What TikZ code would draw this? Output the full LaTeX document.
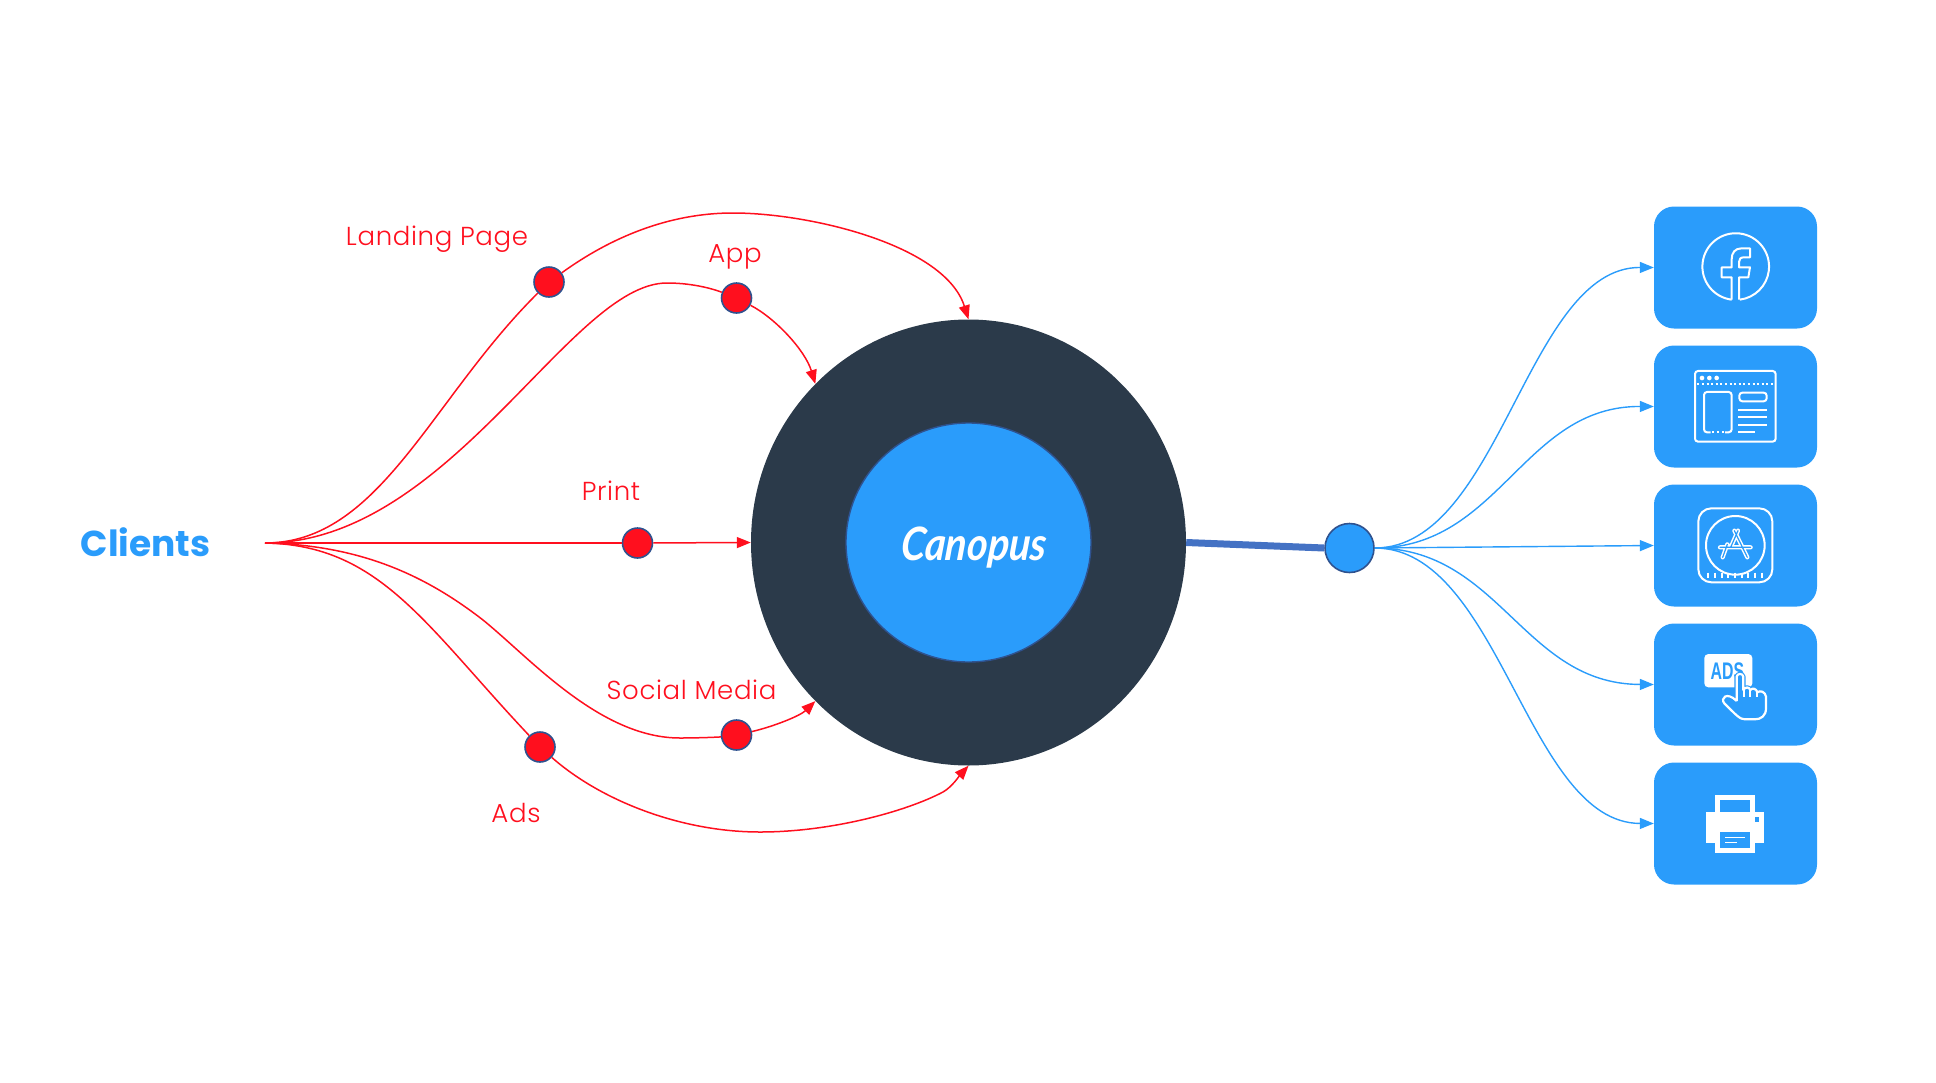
\documentclass[tikz,border=0pt]{standalone}
\usepackage{fontspec}
\setmainfont{Poppins}
\newfontfamily\labelfam[LetterSpace=2.5]{Poppins Light}
\newfontfamily\scriptfam{Lato}
\newfontfamily\iconfam{Liberation Sans}
\usepackage{tikz}
\usetikzlibrary{arrows.meta,shapes.geometric}
\definecolor{cyanblue}{HTML}{2A9CFB}
\definecolor{flowred}{HTML}{FF0F1E}
\definecolor{darkdisc}{HTML}{2B3A4A}
\definecolor{rimblue}{HTML}{2F528F}
\definecolor{barblue}{HTML}{4472C4}
\tikzstyle{rf} = [draw=flowred,line width=1.5pt]
\tikzstyle{rfa} = [rf,-{Triangle[length=14pt,width=11pt]}]
\tikzstyle{bfa} = [draw=cyanblue,line width=1.4pt,-{Triangle[length=14pt,width=11pt]}]
\tikzstyle{reddot} = [circle,fill=flowred,draw=rimblue,line width=1.6pt,minimum size=30pt,inner sep=0pt]
\tikzstyle{redlabel} = [anchor=base,text=flowred,font=\labelfam\fontsize{26}{30}\selectfont]
\tikzstyle{appbox} = [rectangle,rounded corners=20pt,fill=cyanblue,minimum width=163pt,minimum height=122pt,inner sep=0pt]
\tikzstyle{ic} = [draw=white,line width=2pt]

\begin{document}
\begin{tikzpicture}[yscale=-1]
	\useasboundingbox (0pt,0pt) rectangle (1936pt,1082pt);
	% discs
	\node[ellipse,fill=darkdisc,minimum width=435pt,minimum height=446pt,inner sep=0pt] (outerdisc) at (968.5pt,542.5pt) {};
	\node[ellipse,fill=cyanblue,draw=rimblue,line width=1.4pt,minimum width=245pt,minimum height=239pt,inner sep=0pt] (innerdisc) at (968.5pt,542.5pt) {};
	\node[anchor=base,text=white,xscale=0.86,xslant=0.1,font=\scriptfam\itshape\bfseries\fontsize{46}{50}\selectfont] (canopus) at (973pt,560pt) {Canopus};
	% left side
	\node[anchor=base,text=cyanblue,font=\bfseries\fontsize{36}{40}\selectfont] (clients) at (145.5pt,556pt) {Clients};
	\coordinate (fan) at (265pt,543pt);
	\node[reddot] (landingdot) at (549pt,282pt) {};
	\node[reddot] (appdot) at (736.5pt,298pt) {};
	\node[reddot] (printdot) at (637.5pt,543pt) {};
	\node[reddot] (socialdot) at (736.5pt,735pt) {};
	\node[reddot] (adsdot) at (540pt,747pt) {};
	\node[redlabel] (landinglabel) at (437pt,245pt) {Landing Page};
	\node[redlabel] (applabel) at (735pt,262pt) {App};
	\node[redlabel] (printlabel) at (611pt,500pt) {Print};
	\node[redlabel] (sociallabel) at (691.5pt,699pt) {Social Media};
	\node[redlabel] (adslabel) at (516pt,822pt) {Ads};
	\draw[rf] (fan) .. controls (380pt,543pt) and (430pt,400pt) .. (landingdot);
	\draw[rfa] (landingdot) .. controls (610pt,238pt) and (668pt,213pt) .. (733pt,213pt) .. controls (810pt,213pt) and (945pt,245pt) .. (outerdisc.north);
	\draw[rf] (fan) .. controls (450pt,543pt) and (570pt,283pt) .. (667pt,283pt) .. controls (695pt,283pt) and (716pt,290pt) .. (appdot);
	\draw[rfa] (appdot) .. controls (775pt,318pt) and (805pt,350pt) .. (outerdisc.134);
	\draw[rf] (fan) -- (printdot);
	\draw[rfa] (printdot) -- (outerdisc.west);
	\draw[rf] (fan) .. controls (360pt,545pt) and (425pt,575pt) .. (483pt,620pt) .. controls (530pt,658pt) and (600pt,738pt) .. (680pt,738pt) .. controls (700pt,738pt) and (720pt,737pt) .. (socialdot);
	\draw[rfa] (socialdot) .. controls (772pt,727pt) and (800pt,716pt) .. (outerdisc.226);
	\draw[rf] (fan) .. controls (380pt,545pt) and (425pt,625pt) .. (adsdot);
	\draw[rfa] (adsdot) .. controls (600pt,800pt) and (680pt,832pt) .. (760pt,832pt) .. controls (830pt,832pt) and (905pt,812pt) .. (943pt,792pt) .. controls (952pt,787pt) and (960pt,775pt) .. (outerdisc.south);
	% right side
	\node[circle,fill=cyanblue,draw=rimblue,line width=1.6pt,minimum size=49pt,inner sep=0pt] (splitdot) at (1349.5pt,548pt) {};
	\draw[draw=barblue,line width=7pt] (outerdisc.east) -- (splitdot.west);
	\node[appbox] (fbbox) at (1735.5pt,267.5pt) {};
	\node[appbox] (webbox) at (1735.5pt,406.5pt) {};
	\node[appbox] (storebox) at (1735.5pt,545.5pt) {};
	\node[appbox] (adbox) at (1735.5pt,684.5pt) {};
	\node[appbox] (printbox) at (1735.5pt,823.5pt) {};
	\draw[bfa] (splitdot.east) .. controls (1500pt,548pt) and (1527pt,267pt) .. (fbbox.west);
	\draw[bfa] (splitdot.east) .. controls (1500pt,548pt) and (1523pt,406pt) .. (webbox.west);
	\draw[bfa] (splitdot.east) -- (storebox.west);
	\draw[bfa] (splitdot.east) .. controls (1500pt,548pt) and (1523pt,684pt) .. (adbox.west);
	\draw[bfa] (splitdot.east) .. controls (1500pt,548pt) and (1527pt,823pt) .. (printbox.west);
	% facebook icon
	\begin{scope}[shift={(1640pt,190pt)},scale=0.3333]
		\draw[ic] (275pt,329pt) arc[start angle=97,end angle=443,radius=100pt];
		\draw[ic,line join=round] (275pt,329pt) -- (275pt,262pt) -- (245pt,262pt) -- (245pt,232pt) -- (275pt,232pt) -- (275pt,208pt) .. controls (275pt,188pt) and (285pt,175pt) .. (305pt,175pt) -- (330pt,175pt) -- (330pt,202pt) -- (312pt,202pt) .. controls (302pt,202pt) and (297pt,207pt) .. (297pt,216pt) -- (297pt,232pt) -- (330pt,232pt) -- (325pt,262pt) -- (297pt,262pt) -- (297pt,329pt);
		% web page icon
		\draw[ic,rounded corners=3pt] (165pt,755pt) -- (165pt,543pt) -- (407pt,543pt) -- (407pt,755pt) -- cycle;
		\foreach \dotx in {186,208,230}
			\fill[white] (\dotx pt,564pt) circle (7pt);
		\draw[ic,dash pattern=on 2pt off 2.6pt] (172pt,581pt) -- (402pt,581pt);
		\draw[ic,rounded corners=3pt] (212pt,727pt) -- (192pt,727pt) -- (192pt,606pt) -- (275pt,606pt) -- (275pt,727pt) -- (255pt,727pt);
		\draw[ic,dash pattern=on 2pt off 3pt] (216pt,727pt) -- (252pt,727pt);
		\draw[ic,rounded corners=3pt] (298pt,608pt) rectangle (380pt,634pt);
		\foreach \liney in {660,682,704}
			\draw[ic] (294pt,\liney pt) -- (382pt,\liney pt);
		\draw[ic] (294pt,727pt) -- (345pt,727pt);
	\end{scope}
	% store icon
	\begin{scope}[shift={(1640pt,470pt)},scale=0.3333]
		\draw[ic,rounded corners=13pt] (175pt,115pt) rectangle (397pt,337pt);
		\draw[ic] (286pt,226pt) circle (88pt);
		\foreach \tickx in {205,225,...,365}
			\draw[ic] (\tickx pt,308pt) -- (\tickx pt,323pt);
		\draw[draw=white,line width=4.2pt,line cap=round] (283pt,182pt) -- (322pt,262pt) (262pt,223pt) -- (248pt,262pt) (294pt,182pt) -- (272pt,232pt) (240pt,232pt) -- (332pt,232pt);
		\draw[draw=cyanblue,line width=1.2pt,line cap=round] (283pt,182pt) -- (322pt,262pt) (262pt,223pt) -- (248pt,262pt) (294pt,182pt) -- (272pt,232pt) (240pt,232pt) -- (332pt,232pt);
		% printer icon
		\fill[white] (226pt,975pt) rectangle (344pt,1150pt);
		\fill[white] (198pt,1025pt) rectangle (372pt,1120pt);
		\fill[cyanblue] (241pt,990pt) rectangle (330pt,1025pt);
		\fill[cyanblue] (241pt,1085pt) rectangle (330pt,1135pt);
		\fill[cyanblue] (344pt,1040pt) rectangle (358pt,1055pt);
		\draw[draw=white,line width=1.6pt] (256pt,1103pt) -- (315pt,1103pt);
		\draw[draw=white,line width=1.6pt] (256pt,1118pt) -- (292pt,1118pt);
	\end{scope}
	% ad icon
	\begin{scope}[shift={(1695pt,645pt)},scale=0.3333]
		\fill[white,rounded corners=4pt] (28pt,27pt) rectangle (172pt,127pt);
		\node[text=cyanblue,font=\iconfam\bfseries\fontsize{24}{26}\selectfont,xscale=0.66] (adstext) at (97pt,78pt) {ADS};
		\path[draw=cyanblue,line width=4.4pt,line join=round] (125pt,168pt) -- (125pt,95pt) .. controls (127pt,84pt) and (143pt,84pt) .. (145pt,95pt) -- (145pt,135pt) .. controls (150pt,125pt) and (163pt,125pt) .. (166pt,135pt) .. controls (172pt,128pt) and (184pt,130pt) .. (187pt,142pt) .. controls (195pt,135pt) and (211pt,140pt) .. (213pt,155pt) -- (213pt,190pt) .. controls (213pt,212pt) and (198pt,223pt) .. (180pt,223pt) -- (150pt,223pt) .. controls (135pt,223pt) and (125pt,212pt) .. (88pt,175pt) .. controls (75pt,160pt) and (95pt,138pt) .. (125pt,168pt);
		\path[draw=white,fill=cyanblue,line width=2.2pt,line join=round] (125pt,168pt) -- (125pt,95pt) .. controls (127pt,84pt) and (143pt,84pt) .. (145pt,95pt) -- (145pt,135pt) .. controls (150pt,125pt) and (163pt,125pt) .. (166pt,135pt) .. controls (172pt,128pt) and (184pt,130pt) .. (187pt,142pt) .. controls (195pt,135pt) and (211pt,140pt) .. (213pt,155pt) -- (213pt,190pt) .. controls (213pt,212pt) and (198pt,223pt) .. (180pt,223pt) -- (150pt,223pt) .. controls (135pt,223pt) and (125pt,212pt) .. (88pt,175pt) .. controls (75pt,160pt) and (95pt,138pt) .. (125pt,168pt);
		\draw[ic] (146pt,125pt) -- (146pt,155pt) (166pt,135pt) -- (166pt,155pt) (187pt,142pt) -- (187pt,155pt);
	\end{scope}
\end{tikzpicture}
\end{document}
